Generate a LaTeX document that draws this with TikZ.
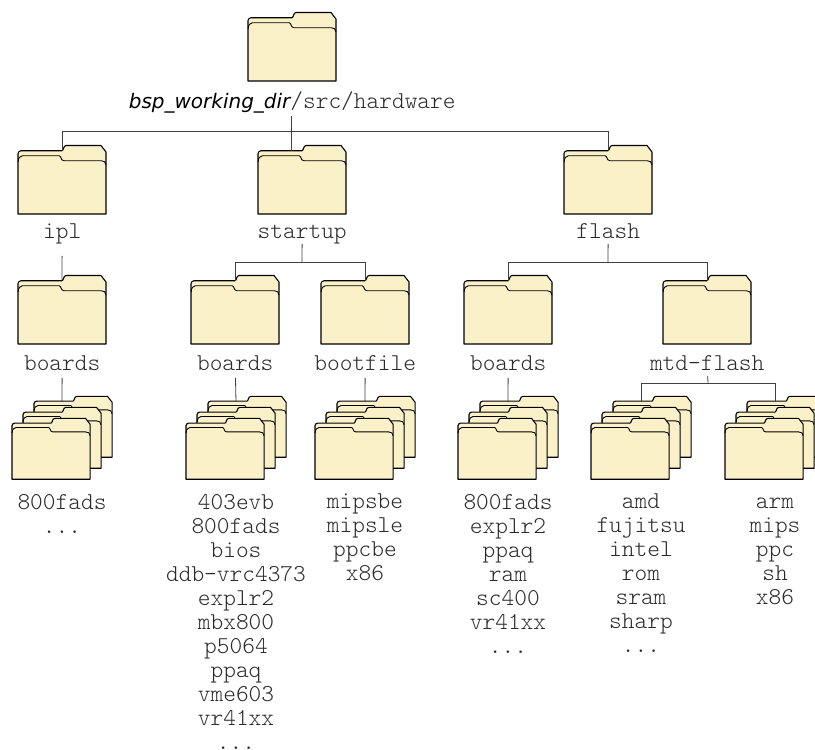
\documentclass[tikz,border=0pt]{standalone}
\usepackage{fontspec}
\setsansfont{DejaVu Sans}
\setmonofont{Latin Modern Mono Light}
\usetikzlibrary{positioning}
\definecolor{folderfill}{HTML}{FBF1C9}
\definecolor{textgray}{HTML}{2A2A2A}
\tikzset{
  pics/folder/.style={code={
    \node[inner sep=0pt,minimum width=88pt,minimum height=69pt,anchor=north west] (-box) at (0,0) {};
    \coordinate (-top) at (44,5.7);
    \path[draw=black,fill=folderfill,line width=1.1pt,line join=round]
      (0,69) -- (0,8.5) .. controls (0,7) and (1.5,5.7) .. (3.3,5.7) -- (44,5.7)
      .. controls (45.5,5.7) and (45.5,.5) .. (48,.5) -- (83,.5) -- (88,7) -- (88,69) -- cycle;
    \draw[line width=.9pt,line join=round]
      (0,17) .. controls (.5,13) and (2,10.7) .. (4.5,10.7) -- (41,10.7)
      .. controls (43.5,10.7) and (42.5,15.7) .. (46,15.7) -- (83,15.7) .. controls (86,15.7) and (88,17) .. (88,20);
  }},
  pics/folderstack/.style={code={
    \pic[scale=.887] (-c) at (22,-22) {folder};
    \pic[scale=.887] (-b) at (11,-11) {folder};
    \pic[scale=.887] (-a) at (0,0) {folder};
    \coordinate (-top) at (50,-16);
    \coordinate (-base) at (50,62);
  }},
  dir label/.style={font=\fontsize{24.2}{24}\selectfont\ttfamily,text=textgray,inner sep=0pt},
  list label/.style={dir label,align=center,anchor=north,execute at begin node=\strut},
  conn/.style={draw=black!75,line width=.8pt}
}
\begin{document}
\begin{tikzpicture}[x=1pt,y=-1pt,node distance=8pt]
  \useasboundingbox (0,0) rectangle (815,750);
  \clip (0,0) rectangle (815,750);

  \pic (root) at (248,12) {folder};
  \node[dir label,text height=16pt,text depth=5pt] (rootlabel) [below=11pt of root-box] {\textsf{\fontsize{20}{22}\selectfont\itshape\color{black} bsp\_working\_dir}/src/hardware};

  \pic (ipl) at (18,145) {folder};
  \pic (startup) at (258,145) {folder};
  \pic (flash) at (564,145) {folder};
  \node[dir label,text height=16pt,text depth=5pt] (ipllabel) [below=8pt of ipl-box] {ipl};
  \node[dir label,text height=16pt,text depth=5pt] (startuplabel) [below=8pt of startup-box] {startup};
  \node[dir label,text height=16pt,text depth=5pt] (flashlabel) [below=8pt of flash-box] {flash};

  \pic (iplboards) at (18,275) {folder};
  \pic (stboards) at (191,275) {folder};
  \pic (bootfile) at (321,275) {folder};
  \pic (flboards) at (464,275) {folder};
  \pic (mtdflash) at (663,275) {folder};
  \node[dir label,text height=16pt,text depth=5pt] (iplboardslabel) [below=10pt of iplboards-box] {boards};
  \node[dir label,text height=16pt,text depth=5pt] (stboardslabel) [below=10pt of stboards-box] {boards};
  \node[dir label,text height=16pt,text depth=5pt] (bootfilelabel) [below=10pt of bootfile-box] {bootfile};
  \node[dir label,text height=16pt,text depth=5pt] (flboardslabel) [below=10pt of flboards-box] {boards};
  \node[dir label,text height=16pt,text depth=5pt] (mtdflashlabel) [below=10pt of mtdflash-box] {mtd-flash};

  \pic (iplstack) at (12,418) {folderstack};
  \pic (ststack) at (186,418) {folderstack};
  \pic (bootstack) at (315,418) {folderstack};
  \pic (flstack) at (458,418) {folderstack};
  \pic (amdstack) at (591,418) {folderstack};
  \pic (armstack) at (725,418) {folderstack};

  \node[list label,below=14pt of iplstack-base] (ipllist) {800fads\\...};
  \node[list label,below=14pt of ststack-base] (stlist) {403evb\\800fads\\bios\\ddb-vrc4373\\explr2\\mbx800\\p5064\\ppaq\\vme603\\vr41xx\\...};
  \node[list label,below=14pt of bootstack-base] (bootlist) {mipsbe\\mipsle\\ppcbe\\x86};
  \node[list label,below=14pt of flstack-base] (fllist) {800fads\\explr2\\ppaq\\ram\\sc400\\vr41xx\\...};
  \node[list label,below=14pt of amdstack-base] (amdlist) {amd\\fujitsu\\intel\\rom\\sram\\sharp\\...};
  \node[list label,below=18pt of armstack-base] (armlist) {arm\\mips\\ppc\\sh\\x86};

  % buses
  \coordinate (rootbus) at (291,131);
  \coordinate (startupbus) at (302,262);
  \coordinate (flashbus) at (608,262);
  \coordinate (mtdbus) at (708,383);

  \draw[conn,shorten <=2pt] (rootlabel.south -| rootbus) -- (rootbus |- startup-top);
  \draw[conn] (rootbus) -| (ipl-top);
  \draw[conn] (rootbus) -| (flash-top);
  \draw[conn,shorten <=12pt] (ipllabel) -- (iplboards-top);
  \draw[conn] (startuplabel) -- (startupbus);
  \draw[conn] (startupbus) -| (stboards-top);
  \draw[conn] (startupbus) -| (bootfile-top);
  \draw[conn] (flashlabel) -- (flashbus);
  \draw[conn] (flashbus) -| (flboards-top);
  \draw[conn] (flashbus) -| (mtdflash-top);
  \draw[conn,shorten <=2pt] (iplboardslabel) -- (iplstack-top);
  \draw[conn,shorten <=2pt] (stboardslabel) -- (ststack-top);
  \draw[conn,shorten <=2pt] (bootfilelabel) -- (bootstack-top);
  \draw[conn,shorten <=2pt] (flboardslabel) -- (flstack-top);
  \draw[conn] (mtdflashlabel) -- (mtdbus);
  \draw[conn] (mtdbus) -| (amdstack-top);
  \draw[conn] (mtdbus) -| (armstack-top);
\end{tikzpicture}
\end{document}
